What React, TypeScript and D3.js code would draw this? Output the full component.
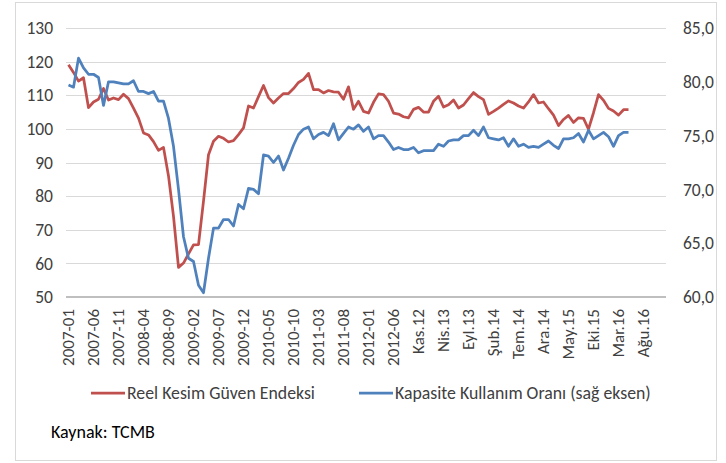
import React, { useEffect, useRef } from 'react';
import * as d3 from 'd3';

// Reel Kesim Güven Endeksi (left axis), 2007-01 .. 2016-05
const rkge = [
  119.1, 116.8, 114.2, 115.2, 106.3, 108.0, 108.8, 112.0, 108.6, 109.2,
  108.7, 110.3, 109.0, 106.2, 103.2, 98.8, 98.2, 96.2, 93.6, 94.5,
  86.0, 74.0, 58.8, 60.1, 62.8, 65.5, 65.6, 78.5, 92.3, 96.3,
  97.8, 97.2, 96.1, 96.5, 98.3, 100.3, 106.8, 106.2, 109.6, 112.9,
  109.3, 107.7, 109.2, 110.5, 110.5, 112.0, 113.8, 114.7, 116.5, 111.7,
  111.7, 110.7, 111.4, 111.0, 110.9, 108.8, 112.5, 105.8, 108.2, 105.2,
  104.7, 107.9, 110.4, 110.2, 108.2, 104.7, 104.4, 103.6, 103.3, 105.8,
  106.4, 105.0, 105.0, 108.2, 109.7, 106.5, 107.2, 108.6, 106.2, 107.1,
  109.0, 110.8, 109.6, 108.7, 104.3, 105.2, 106.2, 107.3, 108.3, 107.7,
  106.8, 106.2, 108.0, 110.2, 107.7, 108.0, 106.0, 104.1, 101.0, 102.8,
  104.0, 101.9, 103.3, 103.1, 99.9, 104.8, 110.2, 108.5, 106.1, 105.3,
  104.1, 105.7, 105.7,
];

// Kapasite Kullanım Oranı (right axis)
const kko = [
  79.7, 79.5, 82.2, 81.3, 80.7, 80.7, 80.4, 77.8, 80.0, 80.0,
  79.9, 79.8, 79.8, 80.1, 79.1, 79.1, 78.9, 79.1, 78.2, 78.2,
  76.6, 74.0, 70.0, 65.6, 63.6, 63.3, 61.1, 60.4, 63.6, 66.4,
  66.4, 67.2, 67.2, 66.6, 68.6, 68.2, 70.1, 70.0, 69.6, 73.2,
  73.1, 72.5, 73.1, 71.8, 72.9, 74.1, 75.1, 75.6, 75.8, 74.7,
  75.1, 75.3, 75.0, 76.1, 74.6, 75.2, 75.8, 75.6, 76.0, 75.4,
  75.8, 74.7, 75.0, 75.0, 74.4, 73.7, 73.9, 73.7, 73.7, 73.9,
  73.4, 73.6, 73.6, 73.6, 74.2, 74.0, 74.5, 74.6, 74.6, 75.0,
  75.0, 75.5, 75.0, 75.8, 74.8, 74.7, 74.6, 74.8, 74.0, 74.7,
  74.0, 74.2, 73.9, 74.0, 73.9, 74.2, 74.5, 74.1, 73.8, 74.7,
  74.7, 74.8, 75.2, 74.4, 75.5, 74.7, 75.0, 75.3, 74.9, 74.0,
  75.0, 75.3, 75.3,
];

// one label every 5 months, 2007-01 .. 2016-08
const tickLabels = [
  '2007-01', '2007-06', '2007-11', '2008-04', '2008-09', '2009-02',
  '2009-07', '2009-12', '2010-05', '2010-10', '2011-03', '2011-08',
  '2012-01', '2012-06', 'Kas.12', 'Nis.13', 'Eyl.13', 'Şub.14',
  'Tem.14', 'Ara.14', 'May.15', 'Eki.15', 'Mar.16', 'Ağu.16',
];
const monthCount = 120;
const tickStep = 5;

const leftTicks = [50, 60, 70, 80, 90, 100, 110, 120, 130];
const rightTicks = [60, 65, 70, 75, 80, 85];

const legendNames = ['Reel Kesim Güven Endeksi', 'Kapasite Kullanım Oranı (sağ eksen)'];
const source = 'Kaynak: TCMB';

const RED = '#c0504d';
const BLUE = '#4f81bd';
const FONT = 'Carlito, Calibri, Lato, sans-serif';

export default function App() {
  const svgRef = useRef<SVGSVGElement>(null);

  useEffect(() => {
    const width = 726, height = 463;
    const plot = { left: 66, right: 666, top: 28, bottom: 297 };

    const svg = d3.select(svgRef.current);
    svg.selectAll('*').remove();
    svg.attr('width', width).attr('height', height);

    svg.append('rect')
      .attr('x', 15.5).attr('y', 2.5)
      .attr('width', 701).attr('height', 458)
      .attr('fill', '#fff').attr('stroke', '#d9d9d9');

    const x = d3.scaleBand<number>()
      .domain(d3.range(monthCount))
      .range([plot.left, plot.right]);
    const cx = (i: number) => (x(i) as number) + x.bandwidth() / 2;

    const yL = d3.scaleLinear().domain([50, 130]).range([plot.bottom, plot.top]);
    const yR = d3.scaleLinear().domain([60, 85]).range([plot.bottom, plot.top]);

    // grid
    svg.append('g')
      .selectAll('line')
      .data(leftTicks.slice(1))
      .join('line')
      .attr('x1', plot.left).attr('x2', plot.right)
      .attr('y1', d => Math.round(yL(d)) + 0.5).attr('y2', d => Math.round(yL(d)) + 0.5)
      .attr('stroke', '#d9d9d9');

    svg.append('line')
      .attr('x1', plot.left).attr('x2', plot.right)
      .attr('y1', plot.bottom).attr('y2', plot.bottom)
      .attr('stroke', '#bfbfbf').attr('stroke-width', 2);

    // left axis labels
    svg.append('g')
      .selectAll('text')
      .data(leftTicks)
      .join('text')
      .attr('x', 53).attr('y', d => yL(d))
      .attr('dy', '0.35em')
      .attr('text-anchor', 'end')
      .attr('font-family', FONT).attr('font-size', 17.5).attr('fill', '#404040')
      .text(d => d);

    // right axis labels
    svg.append('g')
      .selectAll('text')
      .data(rightTicks)
      .join('text')
      .attr('x', 683).attr('y', d => yR(d))
      .attr('dy', '0.35em')
      .attr('text-anchor', 'start')
      .attr('font-family', FONT).attr('font-size', 17.5).attr('fill', '#404040')
      .text(d => d3.format('.1f')(d).replace('.', ','));

    // x labels (rotated)
    svg.append('g')
      .selectAll('text')
      .data(tickLabels)
      .join('text')
      .attr('transform', (d, k) => `translate(${cx(k * tickStep)},309) rotate(-90)`)
      .attr('dy', '0.35em')
      .attr('text-anchor', 'end')
      .attr('font-family', FONT).attr('font-size', 17).attr('fill', '#404040')
      .text(d => d);

    const lineL = d3.line<number>().x((d, i) => cx(i)).y(d => yL(d));
    const lineR = d3.line<number>().x((d, i) => cx(i)).y(d => yR(d));

    svg.append('path')
      .attr('d', lineL(rkge))
      .attr('fill', 'none').attr('stroke', RED)
      .attr('stroke-width', 2.75).attr('stroke-linejoin', 'round');

    svg.append('path')
      .attr('d', lineR(kko))
      .attr('fill', 'none').attr('stroke', BLUE)
      .attr('stroke-width', 2.75).attr('stroke-linejoin', 'round');

    // legend
    const legend = svg.append('g');
    const items = [
      { name: legendNames[0], color: RED, x0: 91 },
      { name: legendNames[1], color: BLUE, x0: 359 },
    ];
    items.forEach(it => {
      legend.append('line')
        .attr('x1', it.x0).attr('x2', it.x0 + 34)
        .attr('y1', 393).attr('y2', 393)
        .attr('stroke', it.color).attr('stroke-width', 2.75);
      legend.append('text')
        .attr('x', it.x0 + 36).attr('y', 393)
        .attr('dy', '0.35em')
        .attr('font-family', FONT).attr('font-size', 17.8).attr('fill', '#404040')
        .text(it.name);
    });

    svg.append('text')
      .attr('x', 51).attr('y', 438)
      .attr('font-family', FONT).attr('font-size', 18).attr('fill', '#000')
      .text(source);
  }, []);

  return (
    <svg ref={svgRef} style={{ position: 'absolute', left: 0, top: 0 }}></svg>
  );
}
